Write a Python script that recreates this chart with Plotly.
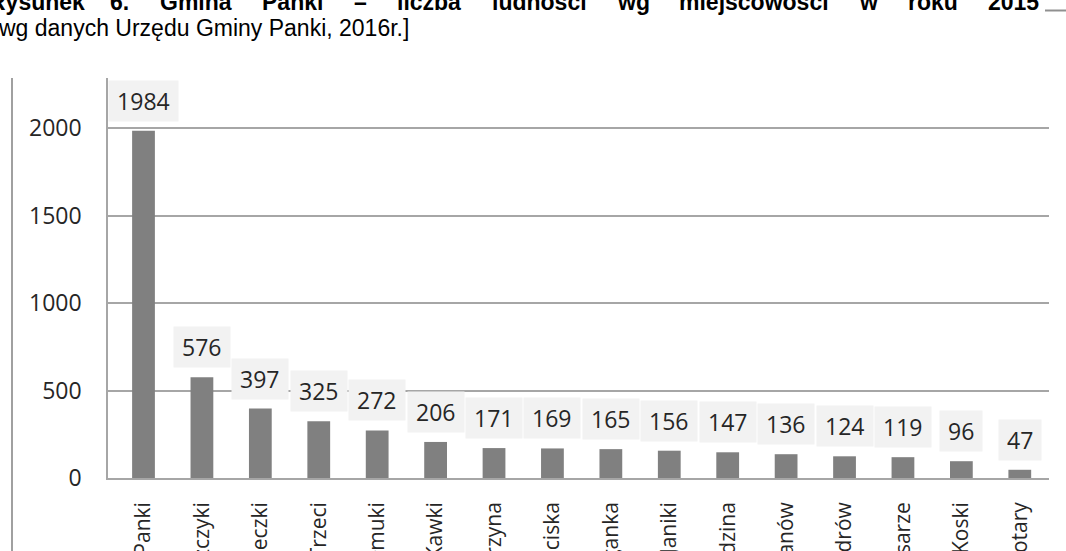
import plotly.graph_objects as go

# ---- data ----
villages = ["Panki", "Praszczyki", "Konieczki", "Zwierzyniec Trzeci", "Kałmuki", "Kawki",
            "Kostrzyna", "ciska", "Cyganka", "Janiki", "Żerdzina", "anów",
            "Aleksandrów", "sarze", "Koski", "otary"]
population = [1984, 576, 397, 325, 272, 206, 171, 169, 165, 156, 147, 136, 124, 119, 96, 47]
y_ticks = [0, 500, 1000, 1500, 2000]

title_words = ["Rysunek", "6.", "Gmina", "Panki", "–", "liczba", "ludności", "wg",
               "miejscowości", "w", "roku", "2015"]
source_line = "wg danych Urzędu Gminy Panki, 2016r.]"

# ---- layout constants (pixels) ----
W, H = 1066, 551
ML, MR, MT, MB = 108, 17, 78, 73
PW = W - ML - MR
PH = H - MT - MB
word_left_px = [-7, 114, 164, 266, 358, 401, 496, 621, 683, 863, 912, 992]
TEXT_INSET = 5

LABEL_FONT = "Open Sans, Noto Sans, sans-serif"
TITLE_FONT = "Liberation Sans, Arial, sans-serif"

fig = go.Figure()
fig.add_trace(go.Bar(
    x=villages, y=population,
    marker=dict(color="#808080", line=dict(width=0)),
    hoverinfo="skip",
))

annotations = []
# data labels
for v, p in zip(villages, population):
    s = str(p)
    annotations.append(dict(
        x=v, y=p, xref="x", yref="y", text=s, showarrow=False,
        yanchor="bottom", xanchor="center", yshift=9,
        font=dict(family=LABEL_FONT, size=23, color="#262626"),
        bgcolor="#f2f2f2", borderpad=6, width=13.2 * len(s) + 4, height=28,
    ))

# title words (justified bold line, partially cut at top)
for w, px in zip(title_words, word_left_px):
    annotations.append(dict(
        x=0, y=1, xref="paper", yref="paper", text=w, showarrow=False,
        xanchor="left", yanchor="middle", xshift=px - ML - TEXT_INSET, yshift=MT - 1.5,
        font=dict(family=TITLE_FONT, size=23, color="#000000", weight="bold"),
        borderpad=0,
    ))
annotations.append(dict(
    x=0, y=1, xref="paper", yref="paper", text=source_line, showarrow=False,
    xanchor="left", yanchor="middle", xshift=-ML - TEXT_INSET + 2, yshift=MT - 28,
    font=dict(family=TITLE_FONT, size=23, color="#000000"),
    borderpad=0,
))

shapes = [
    # chart frame left border
    dict(type="line", xref="paper", yref="paper",
         x0=(12 - ML) / PW, x1=(12 - ML) / PW, y0=1, y1=-0.3,
         line=dict(color="#a0a0a0", width=2)),
    # small underline at top right
    dict(type="line", xref="paper", yref="paper",
         x0=(1045 - ML) / PW, x1=(1070 - ML) / PW,
         y0=1 + (MT - 10.5) / PH, y1=1 + (MT - 10.5) / PH,
         line=dict(color="#909090", width=2)),
]

fig.update_layout(
    width=W, height=H,
    margin=dict(l=ML, r=MR, t=MT, b=MB, pad=0),
    paper_bgcolor="white", plot_bgcolor="white",
    showlegend=False,
    bargap=0.61,
    annotations=annotations,
    shapes=shapes,
)
fig.update_yaxes(
    range=[0, 2286], tickvals=y_ticks, automargin=False,
    showgrid=True, gridcolor="#a6a6a6", gridwidth=1.5,
    showline=True, linecolor="#a6a6a6", linewidth=1.5,
    zeroline=False, ticks="", ticklabelstandoff=20,
    tickfont=dict(family=LABEL_FONT, size=23, color="#262626"),
)
fig.update_xaxes(
    automargin=False, tickangle=-90, ticks="",
    showline=True, linecolor="#a6a6a6", linewidth=1.5,
    ticklabelstandoff=14,
    tickfont=dict(family=LABEL_FONT, size=21, color="#262626"),
)

fig.write_html("out.html", config={"displayModeBar": False},
               post_script="document.body.style.margin='0';document.body.style.overflow='hidden';")
